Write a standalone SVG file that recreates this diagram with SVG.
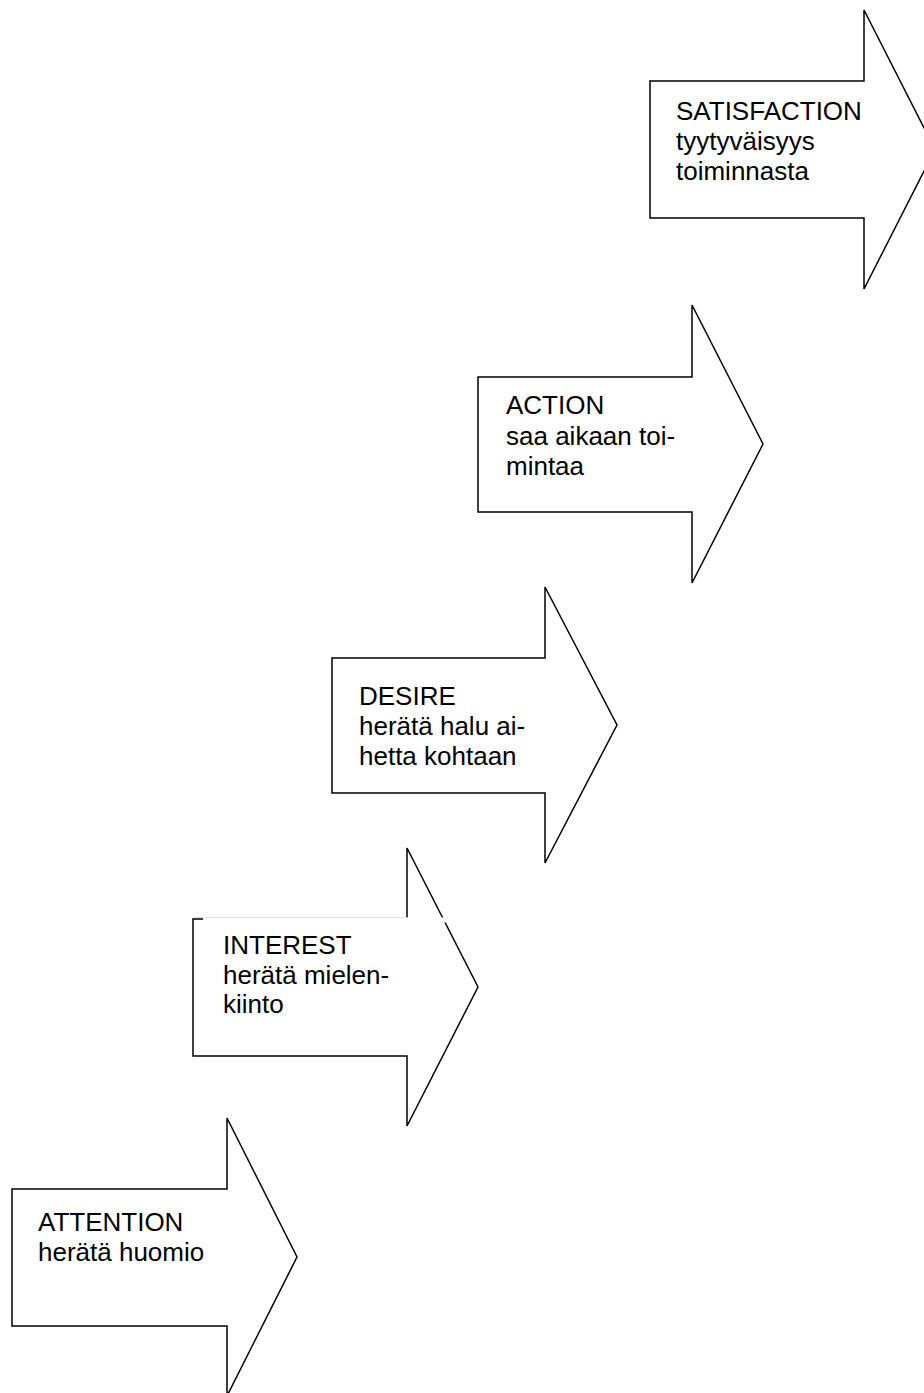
<svg xmlns="http://www.w3.org/2000/svg" width="924" height="1393" viewBox="0 0 924 1393">
<style>
.arrow{fill:#fff;stroke:#000;stroke-width:1.5;stroke-linejoin:miter}
.t{font-family:"Liberation Sans",Arial,sans-serif;font-size:26px;fill:#000}
</style>
<rect width="924" height="1393" fill="#fff"/>
<g id="satisfaction">
<path class="arrow" d="M650,81 H864 V10 L935,149.5 L864,289 V218 H650 Z"/>
<text class="t" x="676" y="120">SATISFACTION</text>
<text class="t" x="676" y="150">tyytyväisyys</text>
<text class="t" x="676" y="180">toiminnasta</text>
</g>
<g id="action">
<path class="arrow" d="M478,377 H692 V305 L763,444 L692,583 V512 H478 Z"/>
<text class="t" x="506" y="414">ACTION</text>
<text class="t" x="506" y="445">saa aikaan toi-</text>
<text class="t" x="506" y="475">mintaa</text>
</g>
<g id="desire">
<path class="arrow" d="M332,658 H545 V587 L617,725 L545,863 V793 H332 Z"/>
<text class="t" x="359" y="705">DESIRE</text>
<text class="t" x="359" y="735">herätä halu ai-</text>
<text class="t" x="359" y="765">hetta kohtaan</text>
</g>
<g id="interest">
<path class="arrow" d="M193,919 H407 V848 L478,987 L407,1126 V1056 H193 Z"/>
<rect x="203" y="917.5" width="243" height="5" fill="#fff"/>
<line x1="194" y1="917.5" x2="407" y2="917.5" stroke="#e2e2e2" stroke-width="1"/>
<text class="t" x="223" y="954">INTEREST</text>
<text class="t" x="223" y="984">herätä mielen-</text>
<text class="t" x="223" y="1013">kiinto</text>
</g>
<g id="attention">
<path class="arrow" d="M12,1189 H227 V1118 L297,1257 L227,1396 V1326 H12 Z"/>
<text class="t" x="38" y="1231">ATTENTION</text>
<text class="t" x="38" y="1261">herätä huomio</text>
</g>
<g id="connectors"></g>
</svg>
